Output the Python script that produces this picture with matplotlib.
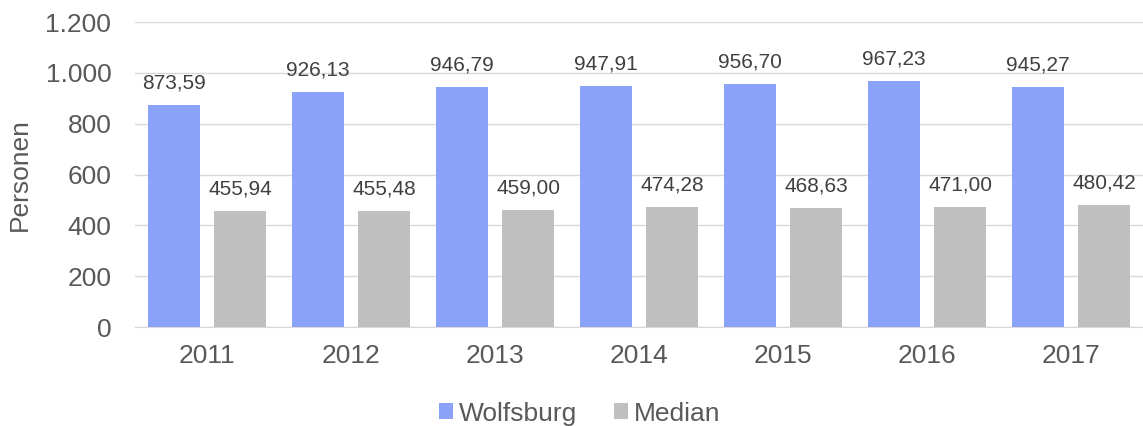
import matplotlib.pyplot as plt
import numpy as np

plt.rcParams['font.family'] = ['Liberation Sans', 'DejaVu Sans']

years = ['2011', '2012', '2013', '2014', '2015', '2016', '2017']
wolfsburg = [873.59, 926.13, 946.79, 947.91, 956.70, 967.23, 945.27]
median = [455.94, 455.48, 459.00, 474.28, 468.63, 471.00, 480.42]


def de(v):
    return f'{v:.2f}'.replace('.', ',')


fig = plt.figure(figsize=(11.43, 4.26), dpi=100)
ax = fig.add_axes([0.118, 0.232, 0.882, 0.716])

x = np.arange(len(years))
w = 0.36
b1 = ax.bar(x - 0.23, wolfsburg, w, color='#8aa3f8', label='Wolfsburg', zorder=2)
b2 = ax.bar(x + 0.23, median, w, color='#bfbfbf', label='Median', zorder=2)

for bars, vals in ((b1, wolfsburg), (b2, median)):
    ax.bar_label(bars, labels=[de(v) for v in vals], padding=9,
                 fontsize=15, color='#404040')

ax.set_xlim(-0.5, len(years) - 0.5)
ax.set_ylim(0, 1200)
ax.set_yticks(range(0, 1201, 200))
ax.set_yticklabels(['0', '200', '400', '600', '800', '1.000', '1.200'])
ax.set_xticks(x)
ax.set_xticklabels(years)
ax.tick_params(length=0, labelsize=19, colors='#595959')
ax.tick_params(axis='x', pad=12)
ax.tick_params(axis='y', pad=17)
ax.grid(axis='y', color='#d9d9d9', linewidth=1, zorder=0)
for s in ['top', 'right', 'left']:
    ax.spines[s].set_visible(False)
ax.spines['bottom'].set_color('#d9d9d9')
ax.set_ylabel('Personen', fontsize=19, color='#595959', labelpad=10)

fig.legend(loc='lower center', bbox_to_anchor=(0.507, -0.055), ncol=2, frameon=False,
           fontsize=19, labelcolor='#595959', handlelength=0.55, handleheight=0.55,
           handletextpad=0.2, columnspacing=1.4)

fig.savefig('out.png', dpi=100)
